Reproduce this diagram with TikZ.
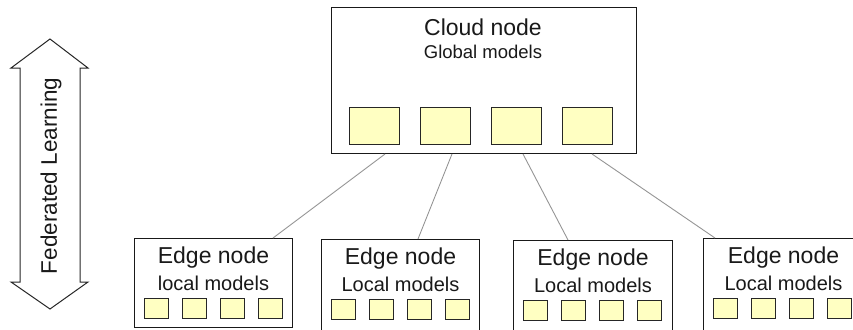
\documentclass[tikz,border=0pt]{standalone}
\usepackage{fontspec}
\setmainfont{Liberation Sans}
\usetikzlibrary{calc}
\definecolor{sqfill}{HTML}{FFFFC2}
\definecolor{linkgray}{HTML}{959595}
\begin{document}
\begin{tikzpicture}[x=1pt,y=-1pt,
  box/.style={draw=black!90, line width=1pt, fill=white, inner sep=0pt, anchor=north west},
  model/.style={draw=black!85, line width=0.9pt, fill=sqfill, inner sep=0pt, anchor=north west},
  link/.style={draw=linkgray, line width=0.9pt},
  title/.style={inner sep=0pt, text=black!90, font=\fontsize{23}{27}\selectfont},
  sub/.style={inner sep=0pt, text=black!90, font=\fontsize{20}{24}\selectfont}]
\useasboundingbox (0,0) rectangle (853,329);
\clip (0,0) rectangle (853,329);
% Federated learning double arrow
\draw[line width=1pt, draw=black!85, fill=white] (50,39) -- (88,68) -- (80,68) -- (80,282) -- (88,282) -- (50,309) -- (11,282) -- (20,282) -- (20,68) -- (11,68) -- cycle;
\node[inner sep=0pt, rotate=90, text=black!90, font=\fontsize{22.5}{26}\selectfont] (fl) at (51,176) {Federated Learning};
% cloud node
\node[box, minimum width=305, minimum height=146] (cloud) at (331,7) {};
\node[title] (ctitle) at (483,27) {Cloud node};
\node[sub, font=\fontsize{18.5}{22}\selectfont] (csub) at (483,52) {Global models};
\foreach \i/\x in {1/349,2/420,3/491,4/562}{
  \node[model, minimum width=50, minimum height=37] (c\i) at (\x,107) {};
}
% edge nodes
\foreach \n/\x/\y/\w/\h/\lab in {1/134/238/158/89/local models, 2/321/239/158/110/Local models, 3/513/240/159/110/Local models, 4/703/238/160/110/Local models}{
  \node[box, minimum width=\w, minimum height=\h] (e\n) at (\x,\y) {};
  \node[title] (e\n t) at ($(e\n.north)+(0,20)$) {Edge node};
  \node[sub] (e\n s) at ($(e\n.north)+(0,45.5)$) {\lab};
  \foreach \k/\off in {1/9.5,2/47.5,3/85.5,4/123.5}{
    \node[model, minimum width=24, minimum height=20] (e\n m\k) at ($(e\n.north west)+(\off,60)$) {};
  }
}
% connectors
\draw[link] ($(cloud.south west)+(54,0)$) -- ($(e1.north west)+(139,0)$);
\draw[link] ($(cloud.south west)+(121,0)$) -- ($(e2.north west)+(97,0)$);
\draw[link] ($(cloud.south west)+(192,0)$) -- ($(e3.north west)+(55,0)$);
\draw[link] ($(cloud.south west)+(261,0)$) -- ($(e4.north west)+(12,0)$);
\end{tikzpicture}
\end{document}
